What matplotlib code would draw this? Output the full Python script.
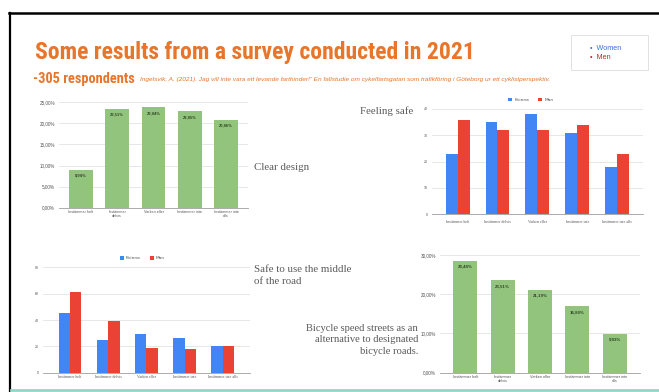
import matplotlib
matplotlib.use("Agg")
import matplotlib.pyplot as plt
import numpy as np
from matplotlib import font_manager
from matplotlib.patches import Rectangle
from matplotlib.lines import Line2D

# ---------------- data ----------------
cats_pct = ["Instämmer helt", "Instämmer\ndelvis", "Varken eller", "Instämmer inte", "Instämmer inte\nalls"]
cats_cnt = ["Instämmer helt", "Instämmer delvis", "Varken eller", "Instämmer inte", "Instämmer inte alls"]

clear_design = [8.94, 23.51, 23.84, 22.85, 20.86]
clear_labels = ["8,94%", "23,51%", "23,84%", "22,85%", "20,86%"]
clear_ticks = [0, 5, 10, 15, 20, 25]
clear_ticklabels = ["0,00%", "5,00%", "10,00%", "15,00%", "20,00%", "25,00%"]

safe_kvinna = [23, 35, 38, 31, 18]
safe_man = [36, 32, 32, 34, 23]
safe_ticks = [0, 10, 20, 30, 40]

middle_kvinna = [45, 25, 29, 26, 20]
middle_man = [61, 39, 19, 18, 20]
middle_ticks = [0, 20, 40, 60, 80]

speed_streets = [28.48, 23.51, 21.19, 16.89, 9.93]
speed_labels = ["28,48%", "23,51%", "21,19%", "16,89%", "9,93%"]
speed_ticks = [0, 10, 20, 30]
speed_ticklabels = ["0,00%", "10,00%", "20,00%", "30,00%"]

series_names = ["Kvinna", "Man"]

# ---------------- style ----------------
W, H = 659, 392
ORANGE = "#E8752A"
GREEN = "#93C47D"
BLUE = "#4285F4"
RED = "#EA4335"
GRID = "#E3E3E3"
AXIS = "#9E9E9E"
TICK = "#555555"
TXT = "#595959"

avail = {f.name for f in font_manager.fontManager.ttflist}
def pick(cands):
    for c in cands:
        if c in avail:
            return c
    return "DejaVu Sans"

TITLE_FONT = pick(["Liberation Sans Narrow", "Roboto Condensed", "Open Sans Condensed", "DejaVu Sans Condensed", "Roboto", "DejaVu Sans"])
SERIF = pick(["Liberation Serif", "DejaVu Serif"])
SANS = pick(["Liberation Sans", "Roboto", "DejaVu Sans"])

fig = plt.figure(figsize=(W / 100, H / 100), dpi=100)
fig.patch.set_facecolor("white")

def fx(x):
    return x / W
def fy(y):
    return 1 - y / H

def add_axes_px(x0, x1, ytop, ybot):
    return fig.add_axes([fx(x0), fy(ybot), (x1 - x0) / W, (ybot - ytop) / H])

def style_ax(ax, ticks, ticklabels, ylim, tick_fs):
    ax.set_ylim(*ylim)
    ax.set_yticks(ticks)
    ax.set_yticklabels(ticklabels, fontsize=tick_fs, color=TICK, family=SANS)
    for s in ["top", "right", "left"]:
        ax.spines[s].set_visible(False)
    ax.spines["bottom"].set_color(AXIS)
    ax.spines["bottom"].set_linewidth(0.6)
    ax.tick_params(axis="y", length=0, pad=3)
    ax.tick_params(axis="x", length=0, pad=2)
    ax.grid(axis="y", color=GRID, linewidth=0.6)
    ax.set_axisbelow(True)
    ax.patch.set_alpha(0)

# ---------------- Chart 1: Clear design ----------------
ax1 = add_axes_px(59, 248, 102.3, 207.7)
x = np.arange(len(cats_pct))
ax1.bar(x, clear_design, width=0.66, color=GREEN)
ax1.set_xlim(-0.6, 4.6)
style_ax(ax1, clear_ticks, clear_ticklabels, (0, 25), 3.3)
ax1.set_xticks(x)
ax1.set_xticklabels(cats_pct, fontsize=2.7, color=TICK, family=SANS, linespacing=1.0)
for xi, v, lab in zip(x, clear_design, clear_labels):
    ax1.text(xi, v - 0.9, lab, ha="center", va="top", fontsize=3.0, color="#2E4A22", fontweight="bold", family=SANS)

# ---------------- Chart 2: Feeling safe ----------------
ax2 = add_axes_px(431.7, 643, 109, 214.3)
w = 0.3
ax2.bar(x - w / 2, safe_kvinna, width=w, color=BLUE, label=series_names[0])
ax2.bar(x + w / 2, safe_man, width=w, color=RED, label=series_names[1])
ax2.set_xlim(-0.65, 4.65)
style_ax(ax2, safe_ticks, [str(t) for t in safe_ticks], (0, 40), 2.6)
ax2.set_xticks(x)
ax2.set_xticklabels(cats_cnt, fontsize=2.8, color=TICK, family=SERIF)
ax2.tick_params(axis="x", pad=4)
ax2.legend(loc="lower center", bbox_to_anchor=(0.47, 1.05), ncol=2, frameon=False,
           fontsize=3.2, handlelength=0.9, handleheight=0.9, handletextpad=0.5, columnspacing=2.0,
           labelcolor=TICK, borderaxespad=0)

# ---------------- Chart 3: Safe to use the middle ----------------
ax3 = add_axes_px(43.3, 249.5, 267.3, 372.7)
ax3.bar(x - w / 2, middle_kvinna, width=w, color=BLUE, label=series_names[0])
ax3.bar(x + w / 2, middle_man, width=w, color=RED, label=series_names[1])
ax3.set_xlim(-0.7, 4.7)
style_ax(ax3, middle_ticks, [str(t) for t in middle_ticks], (0, 80), 2.6)
ax3.set_xticks(x)
ax3.set_xticklabels(cats_cnt, fontsize=2.8, color=TICK, family=SERIF)
ax3.tick_params(axis="x", pad=2)
ax3.legend(loc="lower center", bbox_to_anchor=(0.48, 1.05), ncol=2, frameon=False,
           fontsize=3.2, handlelength=0.9, handleheight=0.9, handletextpad=0.5, columnspacing=2.0,
           labelcolor=TICK, borderaxespad=0)

# ---------------- Chart 4: Bicycle speed streets ----------------
ax4 = add_axes_px(440, 640, 255, 372.7)
ax4.bar(x, speed_streets, width=0.64, color=GREEN)
ax4.set_xlim(-0.68, 4.68)
style_ax(ax4, speed_ticks, speed_ticklabels, (0, 30), 3.3)
ax4.set_xticks(x)
ax4.set_xticklabels(cats_pct, fontsize=2.8, color=TICK, family=SANS, linespacing=1.0)
for xi, v, lab in zip(x, speed_streets, speed_labels):
    ax4.text(xi, v - 0.9, lab, ha="center", va="top", fontsize=3.2, color="#2E4A22", fontweight="bold", family=SANS)

# ---------------- Slide text ----------------
fig.canvas.draw()
r = fig.canvas.get_renderer()

def fit(t, fs, target):
    bw = t.get_window_extent(r).width
    t.set_fontsize(fs * target / bw)

title = fig.text(fx(35), fy(59.5), "Some results from a survey conducted in 2021", color=ORANGE,
                 fontsize=20, family=TITLE_FONT, fontweight="bold", ha="left", va="baseline")
fit(title, 20, 440)

sub = fig.text(fx(33), fy(83), "-305 respondents", color=ORANGE, fontsize=10.5,
               family=TITLE_FONT, fontweight="bold", ha="left", va="baseline")
fit(sub, 10.5, 102)

cite = fig.text(fx(140), fy(81.5),
                "Ingelsvik, A. (2021). Jag vill inte vara ett levande farthinder!\u201d En fallstudie om cykelfartsgatan "
                "som trafikföring i Göteborg ur ett cyklistperspektiv.",
                color=ORANGE, fontsize=3.1, style="italic", family=SANS, ha="left", va="baseline")
fit(cite, 3.1, 404)

fig.text(fx(254), fy(168), "Clear design", color=TXT, fontsize=7.8, family=SERIF, ha="left", va="center")
fig.text(fx(413), fy(111), "Feeling safe", color=TXT, fontsize=7.8, family=SERIF, ha="right", va="center")
fig.text(fx(254), fy(275.5), "Safe to use the middle\nof the road", color=TXT, fontsize=7.8,
         family=SERIF, ha="left", va="center", linespacing=1.35)
fig.text(fx(418), fy(340), "Bicycle speed streets as an\nalternative to designated\nbicycle roads.",
         color=TXT, fontsize=7.6, family=SERIF, ha="right", va="center", linespacing=1.35, multialignment="right")

# legend box top right
fig.add_artist(Rectangle((fx(571), fy(70)), 77 / W, 35 / H, transform=fig.transFigure,
                         facecolor="white", edgecolor="#DDDDDD", linewidth=0.6))
fig.text(fx(590), fy(49), "\u2022  Women", color="#3B6FD1", fontsize=5.2, family=SANS, ha="left", va="center")
fig.text(fx(590), fy(57.5), "\u2022  Men", color="#C0272D", fontsize=5.2, family=SANS, ha="left", va="center")

# frame lines
fig.add_artist(Line2D([fx(9), 1], [fy(12.5), fy(12.5)], transform=fig.transFigure, color="black", linewidth=1.8))
fig.add_artist(Line2D([fx(10), fx(10)], [fy(12.5), 0], transform=fig.transFigure, color="black", linewidth=1.6))
fig.add_artist(Line2D([fx(11), 1], [fy(389.5), fy(389.5)], transform=fig.transFigure, color="#8FD8C8", linewidth=2.0))

fig.savefig("out.png", dpi=100, facecolor="white")
